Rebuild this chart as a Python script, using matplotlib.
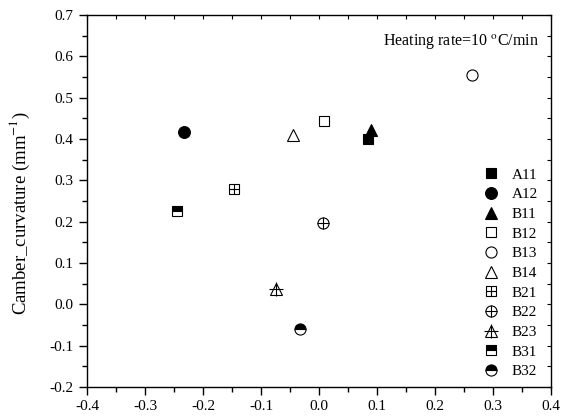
import matplotlib
matplotlib.use('Agg')
import matplotlib.pyplot as plt
from matplotlib.ticker import MultipleLocator

plt.rcParams['font.family'] = ['Liberation Serif', 'DejaVu Serif']
plt.rcParams['mathtext.fontset'] = 'stix'
plt.rcParams['axes.unicode_minus'] = False

# sample names and measured points (x, camber curvature)
samples = ['A11', 'A12', 'B11', 'B12', 'B13', 'B14', 'B21', 'B22', 'B23', 'B31', 'B32']
x_vals = [0.084, -0.233, 0.090, 0.008, 0.263, -0.045, -0.146, 0.007, -0.074, -0.245, -0.033]
y_vals = [0.400, 0.418, 0.423, 0.443, 0.555, 0.410, 0.279, 0.196, 0.038, 0.225, -0.060]

fig = plt.figure(figsize=(5.67, 4.17), dpi=100)
ax = fig.add_axes([0.1534, 0.0719, 0.8184, 0.8921])

ms = 8
k = dict(linestyle='none', color='black', markeredgewidth=0.8)
handles = []

def pt(i, **kw):
    kk = dict(k)
    kk.update(kw)
    h, = ax.plot([x_vals[i]], [y_vals[i]], **kk)
    return h

handles.append(pt(0, marker='s', markersize=ms - 0.5))
handles.append(pt(1, marker='o', markersize=ms + 0.5))
handles.append(pt(2, marker='^', markersize=ms + 0.5))
handles.append(pt(3, marker='s', markersize=ms - 0.5, markerfacecolor='white'))
handles.append(pt(4, marker='o', markersize=ms, markerfacecolor='white'))
handles.append(pt(5, marker='^', markersize=ms + 0.5, markerfacecolor='white'))
# crossed markers: open marker plus a '+'
h1 = pt(6, marker='s', markersize=ms - 1, markerfacecolor='white')
h2 = pt(6, marker='+', markersize=ms - 1)
handles.append((h1, h2))
h1 = pt(7, marker='o', markersize=ms, markerfacecolor='white')
h2 = pt(7, marker='+', markersize=ms)
handles.append((h1, h2))
h1 = pt(8, marker='^', markersize=ms + 0.5, markerfacecolor='white')
h2 = pt(8, marker='+', markersize=ms + 2)
handles.append((h1, h2))
handles.append(pt(9, marker='s', markersize=ms - 1, fillstyle='top', markerfacecoloralt='white'))
handles.append(pt(10, marker='o', markersize=ms, fillstyle='top', markerfacecoloralt='white'))

ax.set_xlim(-0.4, 0.4)
ax.set_ylim(-0.2, 0.7)
ax.xaxis.set_major_locator(MultipleLocator(0.1))
ax.xaxis.set_minor_locator(MultipleLocator(0.05))
ax.yaxis.set_major_locator(MultipleLocator(0.1))
ax.yaxis.set_minor_locator(MultipleLocator(0.05))
ax.xaxis.set_major_formatter(matplotlib.ticker.FormatStrFormatter('%.1f'))
ax.yaxis.set_major_formatter(matplotlib.ticker.FormatStrFormatter('%.1f'))
ax.tick_params(which='major', direction='out', length=6, width=1, labelsize=11)
ax.tick_params(which='minor', direction='out', length=3.5, width=1)
for s in ax.spines.values():
    s.set_linewidth(1)

# inward ticks on top and right spines
top = ax.secondary_xaxis('top')
top.xaxis.set_major_locator(MultipleLocator(0.05))
top.tick_params(direction='in', length=3, width=0.8, labeltop=False)
top.spines['top'].set_visible(False)
right = ax.secondary_yaxis('right')
right.yaxis.set_major_locator(MultipleLocator(0.05))
right.tick_params(direction='in', length=3, width=0.8, labelright=False)
right.spines['right'].set_visible(False)

ax.set_ylabel('Camber_curvature (mm$^{-1}$)', fontsize=13.5)
ax.yaxis.set_label_coords(-0.118, 0.468)

ax.text(0.975, 0.955, 'Heating rate=10 $^{\\mathrm{o}}$C/min', transform=ax.transAxes,
        ha='right', va='top', fontsize=11.5)

ax.legend(handles, samples, loc='lower right', bbox_to_anchor=(0.995, -0.005), frameon=False,
          fontsize=11, handlelength=1.2, handletextpad=0.75, labelspacing=0.39,
          borderpad=0.2)

fig.savefig('out.png', dpi=100)
